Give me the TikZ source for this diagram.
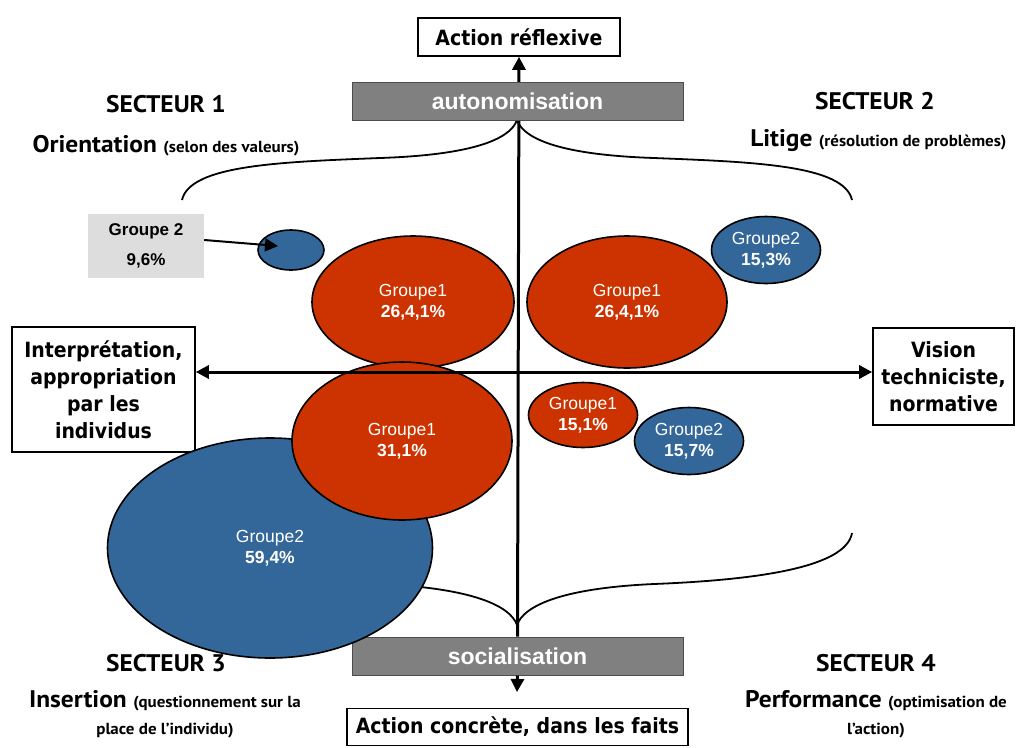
\documentclass[tikz,border=0pt]{standalone}
\usepackage{fontspec}
\setmainfont{Liberation Sans}
\newfontfamily\secfont[FakeStretch=1.06]{PT Sans}
\newfontfamily\boxfont[BoldFont={DejaVu Sans Condensed Bold}]{DejaVu Sans Condensed}
\usetikzlibrary{shapes.geometric,arrows.meta,backgrounds}

\definecolor{rouge}{RGB}{204,51,0}
\definecolor{bleu}{RGB}{51,102,153}
\definecolor{grisbox}{RGB}{128,128,128}
\definecolor{grislab}{RGB}{221,221,221}

\newcommand\parenth[1]{{\fontsize{16}{18}\selectfont #1}}

\tikzset{
  groupe/.style={ellipse, draw, line width=1.6pt, inner sep=0pt, text=white,
    align=center, font=\fontsize{17.5}{21}\selectfont},
  g1/.style={groupe, fill=rouge},
  g2/.style={groupe, fill=bleu},
  pole/.style={draw=black!70, fill=grisbox, line width=1pt, minimum width=331pt,
    minimum height=38pt, text=white, font=\bfseries\fontsize{23}{26}\selectfont},
  cadre/.style={draw, line width=1.6pt, align=center, inner sep=0pt,
    font=\boxfont\bfseries\fontsize{21}{27}\selectfont},
  secname/.style={font=\secfont\bfseries\fontsize{24}{26}\selectfont},
  sectheme/.style={align=center, font=\secfont\bfseries\fontsize{24}{27}\selectfont},
  axe/.style={line width=3pt},
  tip/.style={-{Triangle[length=13pt,width=13pt]}},
  accolade/.style={line width=1.8pt},
}

\begin{document}
\begin{tikzpicture}[x=1pt, y=-1pt]
\useasboundingbox (0,0) rectangle (1016,747);

% poles de l'axe vertical
\node[cadre, minimum width=202pt, minimum height=38pt] (reflex) at (519,37) {Action réflexive};
\node[pole] (auto) at (517.5,101) {autonomisation};
\node[pole] (social) at (517.5,656) {socialisation};
\node[cadre, minimum width=341pt, minimum height=37pt] (concret) at (517.5,727) {Action concrète, dans les faits};
\coordinate (downtip) at (517,692);

% poles de l'axe horizontal
\node[cadre, minimum width=183pt, minimum height=125pt] (interp) at (103.5,389.5)
  {Interprétation,\\appropriation\\par les\\individus};
\node[cadre, minimum width=141pt, minimum height=97pt] (vision) at (943.5,376.5)
  {Vision\\technicis\-te,\\normative};
\coordinate (hy) at (517,372);

% secteurs
\node[secname] (sec1) at (166,104) {SECTEUR 1};
\node[secname] (sec2) at (875,101) {SECTEUR 2};
\node[secname] (sec3) at (166,663) {SECTEUR 3};
\node[secname] (sec4) at (876,663) {SECTEUR 4};
\node[sectheme] (theme1) at (166,146) {Orientation \parenth{(selon des valeurs)}};
\node[sectheme, anchor=east] (theme2) at (1010,141) {Litige \parenth{(résolution de problèmes)}};
\node[sectheme] (theme3) at (165,714) {Insertion \parenth{(questionnement sur la}\\\parenth{place de l’individu)}};
\node[sectheme] (theme4) at (876,714) {Performance \parenth{(optimisation de}\\\parenth{l’action)}};

% accolades et axe vertical
\begin{scope}[on background layer]
  \draw[accolade] (182,200) .. controls (190,165) and (280,162) .. (380,158)
    .. controls (470,155) and (510,140) .. (517,120)
    .. controls (524,140) and (564,155) .. (654,158)
    .. controls (754,162) and (844,165) .. (852,200);
  \draw[accolade] (182,533) .. controls (188,568) and (280,580) .. (380,584)
    .. controls (470,588) and (510,605) .. (517,625)
    .. controls (524,605) and (564,588) .. (654,584)
    .. controls (754,580) and (846,568) .. (852,533);
  \draw[axe, tip] (social.north) -- (reflex.south);
\end{scope}
\draw[axe, tip] (social.south) -- (downtip);

% groupes
\node[g1, minimum width=202pt, minimum height=132pt] (s1g1) at (413,302) {Groupe1\\\textbf{26,4,1\%}};
\node[g2, minimum width=66pt, minimum height=40pt] (s1g2) at (291,250) {};
\node[g1, minimum width=200pt, minimum height=132pt] (s2g1) at (627,302) {Groupe1\\\textbf{26,4,1\%}};
\node[g2, minimum width=109pt, minimum height=67pt] (s2g2) at (766,250) {Groupe2\\\textbf{15,3\%}};
\node[g2, minimum width=325pt, minimum height=220pt] (s3g2) at (270,548) {Groupe2\\\textbf{59,4\%}};
\node[g1, minimum width=220pt, minimum height=158pt] (s3g1) at (402,441) {Groupe1\\\textbf{31,1\%}};
\node[g1, minimum width=109pt, minimum height=65pt] (s4g1) at (583,415) {Groupe1\\\textbf{15,1\%}};
\node[g2, minimum width=109pt, minimum height=67pt] (s4g2) at (689,441) {Groupe2\\\textbf{15,7\%}};

% etiquette du petit groupe 2
\node[fill=grislab, minimum width=116pt, minimum height=64pt, align=center,
  font=\bfseries\fontsize{17}{30}\selectfont] (g2lab) at (146,246) {Groupe 2\\9,6\%};
\draw[line width=2pt, tip] ([yshift=6pt]g2lab.east) -- ([xshift=-13pt, yshift=4pt]s1g2.center);

% axe horizontal
\draw[axe, {Triangle[length=13pt,width=13pt]}-{Triangle[length=13pt,width=13pt]}]
  (interp.east |- hy) -- (vision.west |- hy);
\end{tikzpicture}
\end{document}
